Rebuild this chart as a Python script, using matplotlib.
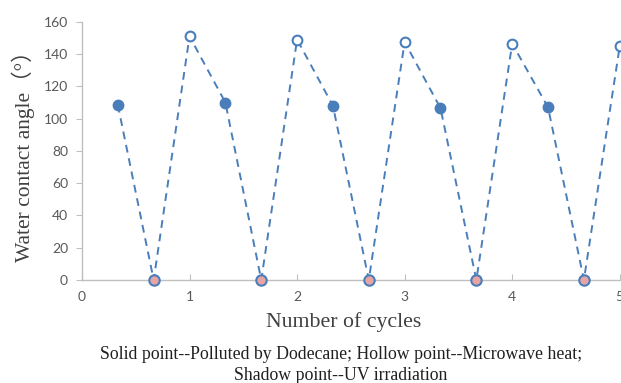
import matplotlib
matplotlib.use("Agg")
import matplotlib.pyplot as plt

x_solid = [1/3, 4/3, 7/3, 10/3, 13/3]
y_solid = [108.5, 110, 108, 106.5, 107]
x_hollow = [1, 2, 3, 4, 5]
y_hollow = [151, 149, 147.5, 146.5, 145]
x_shadow = [2/3, 5/3, 8/3, 11/3, 14/3]
y_shadow = [0, 0, 0, 0, 0]

# line sequence through all points in order
xs = []
ys = []
for i in range(5):
    xs += [x_solid[i], x_shadow[i], x_hollow[i]]
    ys += [y_solid[i], y_shadow[i], y_hollow[i]]

blue = "#4a7ebb"
fig = plt.figure(figsize=(6.21, 3.83), dpi=100)
ax = fig.add_axes([0.132, 0.269, 0.866, 0.674])
ax.plot(xs, ys, linestyle=(0, (4, 3)), color=blue, lw=1.4, zorder=2)
ax.plot(x_solid, y_solid, 'o', ms=7.5, color=blue, mec=blue, zorder=3, clip_on=False)
ax.plot(x_hollow, y_hollow, 'o', ms=7, mfc='white', mec=blue, mew=1.5, zorder=3, clip_on=False)
ax.plot(x_shadow, y_shadow, 'o', ms=7.5, mfc='#e8a3a3', mec=blue, mew=1.5, zorder=3, clip_on=False)

ax.set_xlim(0, 5)
ax.set_ylim(0, 160)
ax.set_xticks([0, 1, 2, 3, 4, 5])
ax.set_yticks(range(0, 161, 20))
for s in ['top', 'right']:
    ax.spines[s].set_visible(False)
for s in ['left', 'bottom']:
    ax.spines[s].set_color('#bfbfbf')
    ax.spines[s].set_linewidth(1.0)
ax.tick_params(axis='x', direction='in', length=4, color='#bfbfbf', labelsize=10,
               labelcolor='#595959', pad=8)
ax.tick_params(axis='y', direction='out', length=4, color='#bfbfbf', labelsize=10,
               labelcolor='#595959', pad=6)
for lab in ax.get_xticklabels() + ax.get_yticklabels():
    lab.set_family('Lato')

fam = ['Liberation Serif', 'Noto Sans CJK SC']
ax.set_ylabel('Water contact angle（°）', family=fam, fontsize=15.5, color='#404040', labelpad=6)
fig.text(0.554, 0.158, 'Number of cycles', family=fam, fontsize=15.7, color='#404040',
         ha='center', va='center')
fig.text(0.549, 0.075, 'Solid point--Polluted by Dodecane; Hollow point--Microwave heat;',
         family=fam, fontsize=12.8, color='#202020', ha='center', va='center')
fig.text(0.549, 0.020, 'Shadow point--UV irradiation',
         family=fam, fontsize=12.8, color='#202020', ha='center', va='center')

fig.savefig('out.png', dpi=100)
